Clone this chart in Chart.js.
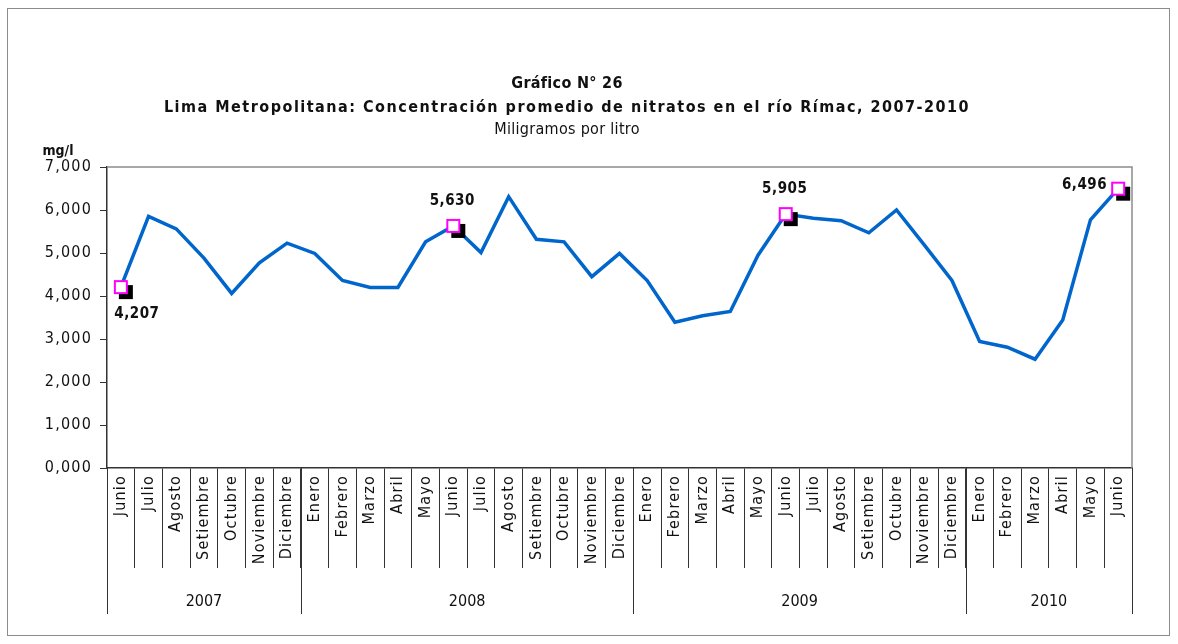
<!DOCTYPE html>
<html><head><meta charset="utf-8">
<script src="https://cdn.jsdelivr.net/npm/chart.js@4.4.1/dist/chart.umd.min.js"></script>
<style>html,body{margin:0;padding:0;background:#fff}#wrap{width:1178px;height:644px}</style>
</head><body><div id="wrap"><canvas id="c" width="1178" height="644"></canvas></div>
<script>
const months = ["Junio","Julio","Agosto","Setiembre","Octubre","Noviembre","Diciembre",
"Enero","Febrero","Marzo","Abril","Mayo","Junio","Julio","Agosto","Setiembre","Octubre","Noviembre","Diciembre",
"Enero","Febrero","Marzo","Abril","Mayo","Junio","Julio","Agosto","Setiembre","Octubre","Noviembre","Diciembre",
"Enero","Febrero","Marzo","Abril","Mayo","Junio"];
const values = [4.207,5.85,5.56,4.88,4.06,4.77,5.23,
4.99,4.36,4.20,4.20,5.26,5.630,5.01,6.31,5.32,5.26,4.45,4.99,
4.36,3.39,3.54,3.64,4.95,5.905,5.81,5.75,5.47,6.00,5.19,4.36,
2.94,2.81,2.53,3.44,5.77,6.496];
const years = ["2007","2008","2009","2010"];
const yearCounts = [7,12,12,6];
const markerIdx = [0,12,24,36];
const markerLabelPos = ["below","above","above","left"];
const yTicks = [0,1,2,3,4,5,6,7];
const titleLines = ["Gráfico N° 26","Lima Metropolitana: Concentración promedio de nitratos en el río Rímac, 2007-2010","Miligramos por litro"];
const yUnit = "mg/l";

const FONT = "'Liberation Sans Narrow','Arial Narrow','DejaVu Sans Condensed',sans-serif";
const fmt = v => v.toFixed(3).replace('.', ',');

// marker image
const mk = document.createElement('canvas');
mk.width = 34; mk.height = 34;
(function(){
  const c = mk.getContext('2d');
  c.fillStyle = '#000'; c.fillRect(15,15,14,14);
  c.fillStyle = '#fff'; c.fillRect(10,10,14,14);
  c.strokeStyle = '#FF00FF'; c.lineWidth = 2; c.strokeRect(11,11,12,12);
})();

const markerData = values.map((v,i) => markerIdx.includes(i) ? v : null);

const deco = {
  id: 'deco',
  beforeDraw(chart){
    const ctx = chart.ctx;
    ctx.save();
    ctx.fillStyle = '#fff'; ctx.fillRect(0,0,chart.width,chart.height);
    ctx.strokeStyle = '#8c8c8c'; ctx.lineWidth = 1;
    ctx.strokeRect(7.5, 8.5, 1162, 627);
    ctx.fillStyle = '#111'; ctx.textAlign = 'center'; ctx.textBaseline = 'middle';
    ctx.letterSpacing = '0.3px';
    ctx.font = "bold 16px " + FONT;
    ctx.fillText(titleLines[0], 567, 84);
    ctx.letterSpacing = '1.5px';
    ctx.fillText(titleLines[1], 567, 108);
    ctx.letterSpacing = '0.3px';
    ctx.font = "16px " + FONT;
    ctx.fillText(titleLines[2], 567, 130);
    ctx.letterSpacing = '0px';
    ctx.font = "bold 14px " + FONT;
    ctx.fillText(yUnit, 58, 151);
    ctx.restore();
    ctx.letterSpacing = '1.2px';
  },
  afterDraw(chart){
    const ctx = chart.ctx, a = chart.chartArea, x = chart.scales.x;
    ctx.save();
    ctx.letterSpacing = '0px';
    ctx.strokeStyle = '#8c8c8c'; ctx.lineWidth = 1.5;
    ctx.beginPath(); ctx.moveTo(a.left, a.top); ctx.lineTo(a.right, a.top); ctx.lineTo(a.right, a.bottom); ctx.stroke();
    // year separators
    ctx.strokeStyle = '#333'; ctx.lineWidth = 1;
    const half = (x.getPixelForValue(1) - x.getPixelForValue(0)) / 2;
    let start = 0;
    ctx.font = "16px " + FONT; ctx.fillStyle = '#111'; ctx.textAlign = 'center'; ctx.textBaseline = 'middle';
    const bounds = [x.getPixelForValue(0) - half];
    yearCounts.forEach((n, k) => {
      const end = start + n - 1;
      bounds.push(x.getPixelForValue(end) + half);
      const cx = (x.getPixelForValue(start) + x.getPixelForValue(end)) / 2;
      ctx.fillText(years[k], cx, a.bottom + 134);
      start += n;
    });
    bounds.forEach(bx => {
      const px = Math.round(bx) + 0.5;
      ctx.beginPath(); ctx.moveTo(px, a.bottom); ctx.lineTo(px, a.bottom + 146); ctx.stroke();
    });
    // data labels
    const meta = chart.getDatasetMeta(0);
    ctx.letterSpacing = '0.5px';
    ctx.font = "bold 15px " + FONT; ctx.fillStyle = '#111';
    markerIdx.forEach((i, k) => {
      const p = meta.data[i];
      const pos = markerLabelPos[k];
      let tx = p.x, ty = p.y;
      if (pos === 'below') { tx += 16; ty += 27; ctx.textAlign = 'center'; }
      else if (pos === 'above') { tx -= 1; ty -= 25; ctx.textAlign = 'center'; }
      else { tx -= 11; ty -= 4; ctx.textAlign = 'right'; }
      ctx.fillText(fmt(values[i]), tx, ty);
    });
    ctx.restore();
  }
};

new Chart(document.getElementById('c'), {
  type: 'line',
  data: {
    labels: months,
    datasets: [
      { data: markerData, showLine: false, pointStyle: mk, pointRadius: 8, pointHoverRadius: 8, order: 0 },
      { data: values, borderColor: '#0066CC', borderWidth: 3.5, pointRadius: 0, tension: 0, fill: false, order: 1 }
    ]
  },
  options: {
    responsive: false, animation: false, devicePixelRatio: 1,
    layout: { padding: { top: 167, right: 46, left: 0, bottom: 0 } },
    plugins: { legend: { display: false }, tooltip: { enabled: false }, title: { display: false } },
    scales: {
      x: {
        offset: true,
        afterFit: s => { s.height = 644 - 468; },
        grid: { offset: true, drawOnChartArea: false, drawTicks: true, tickLength: 100, color: '#333', lineWidth: 1 },
        border: { color: '#333', width: 1.5 },
        ticks: { autoSkip: false, maxRotation: 90, minRotation: 90, padding: -93, color: '#111', font: { family: FONT, size: 16 } }
      },
      y: {
        min: 0, max: 7,
        afterFit: s => { s.width = 107; },
        afterBuildTicks: s => { s.ticks = yTicks.map(v => ({ value: v })); },
        grid: { drawOnChartArea: false, drawTicks: true, tickLength: 7, color: '#333' },
        border: { color: '#333', width: 1.5 },
        ticks: { padding: 8, color: '#111', font: { family: FONT, size: 16 }, callback: v => fmt(v) }
      }
    }
  },
  plugins: [deco]
});
</script></body></html>
